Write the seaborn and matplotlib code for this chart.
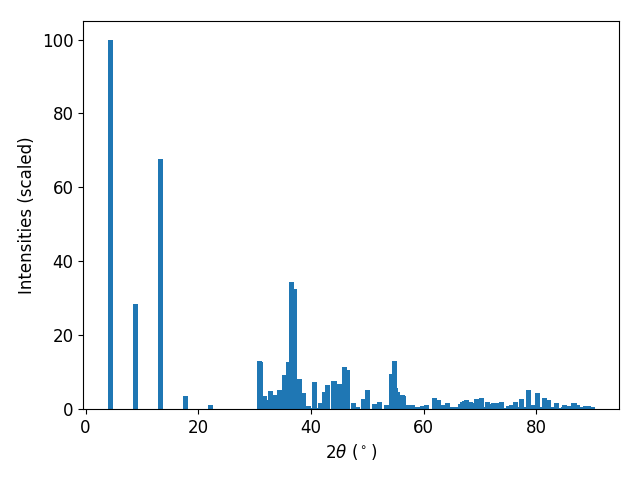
import matplotlib
matplotlib.use("Agg")
import matplotlib.pyplot as plt
import seaborn as sns

# peak positions (2theta, degrees) and scaled intensities
two_theta = [4.36, 8.81, 13.26, 17.71, 22.16,
             30.9, 31.1, 31.7, 32.3, 32.5, 32.9, 33.3, 33.8, 34.5, 34.8,
             35.4, 36.0, 36.6, 37.1, 37.9, 38.7, 39.5, 40.0, 40.6, 41.0,
             41.7, 42.4, 42.9, 44.1, 45.0, 45.9, 46.5, 47.5, 48.3, 49.3,
             50.1, 51.3, 52.2, 53.5, 54.0, 54.4, 54.8, 55.1, 55.3, 55.7,
             56.3, 56.5, 57.2, 58.1, 59.0, 59.8, 60.6, 61.9, 62.6, 63.6,
             64.2, 65.0, 65.6, 66.2, 66.6, 66.9, 67.3, 67.7, 68.3, 68.6,
             69.0, 69.4, 70.3, 70.8, 71.4, 71.8, 72.4, 73.0, 73.9, 74.6,
             75.1, 75.6, 76.4, 76.9, 77.4, 77.9, 78.6, 79.3, 80.2, 80.7,
             81.4, 82.1, 82.8, 83.6, 84.3, 84.8, 85.1, 85.8, 86.7, 87.4,
             88.2, 88.8, 89.3, 89.9]
intensity = [100.0, 28.4, 67.7, 3.5, 1.1,
             13.1, 12.8, 3.5, 1.7, 2.4, 4.9, 2.7, 3.8, 5.1, 4.1,
             9.2, 12.7, 34.4, 32.5, 8.1, 4.3, 0.8, 0.3, 7.3, 0.3,
             1.6, 4.6, 6.5, 7.6, 6.8, 11.4, 10.6, 1.6, 0.4, 2.7,
             5.1, 1.4, 1.9, 1.1, 0.5, 9.5, 13.0, 5.7, 4.6, 3.3,
             3.8, 3.5, 1.1, 1.1, 0.5, 0.8, 1.1, 3.0, 2.4, 1.1,
             1.6, 0.5, 0.5, 0.5, 1.4, 1.9, 2.2, 2.4, 1.9, 1.6,
             0.8, 2.7, 2.9, 0.5, 1.9, 1.4, 1.6, 1.6, 1.9, 0.3,
             0.8, 1.1, 1.9, 0.5, 2.7, 0.5, 5.1, 1.1, 4.3, 0.5,
             3.0, 2.4, 0.5, 1.6, 0.3, 0.5, 1.1, 0.8, 1.6, 1.1,
             0.5, 0.8, 0.8, 0.5]

plt.rcParams["font.size"] = 12
color = sns.color_palette("tab10")[0]

fig, ax = plt.subplots(figsize=(6.4, 4.8), dpi=100)
ax.bar(two_theta, intensity, width=0.9, color=color)
ax.set_xlabel(r"$2\theta$ ($^\circ$)")
ax.set_ylabel("Intensities (scaled)")
fig.subplots_adjust(left=0.13, right=0.967, bottom=0.148, top=0.956)
fig.savefig("out.png")
